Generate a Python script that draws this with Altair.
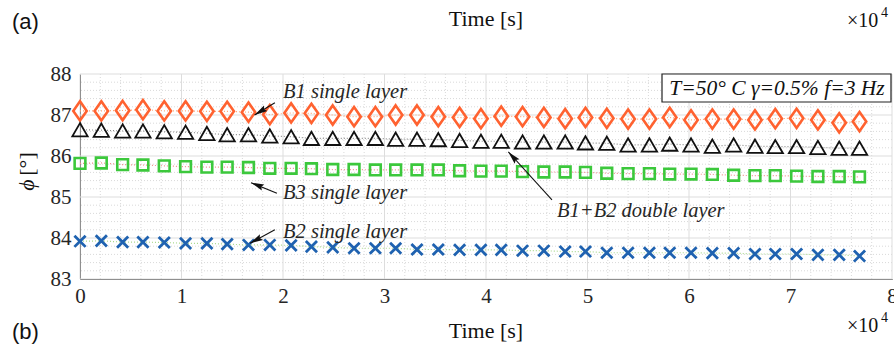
import math
import altair as alt
import pandas as pd

# ---- data (x in units of 10^4 s) ----
time_e4 = [0.00, 0.21, 0.42, 0.62, 0.83, 1.04, 1.25, 1.45, 1.66, 1.87, 2.08,
           2.28, 2.49, 2.70, 2.91, 3.11, 3.32, 3.53, 3.74, 3.95, 4.15, 4.36,
           4.57, 4.78, 4.98, 5.19, 5.40, 5.61, 5.81, 6.02, 6.23, 6.44, 6.65,
           6.85, 7.06, 7.27, 7.48, 7.68]

b1_single = [87.10, 87.10, 87.11, 87.13, 87.10, 87.10, 87.09, 87.09, 87.07, 87.01, 87.05,
             87.04, 87.00, 86.96, 86.96, 87.00, 87.00, 86.96, 86.94, 86.91, 86.97, 86.96,
             86.94, 86.91, 86.94, 86.92, 86.90, 86.90, 86.94, 86.88, 86.90, 86.90, 86.88,
             86.91, 86.92, 86.88, 86.81, 86.84]

b1b2_double = [86.64, 86.63, 86.61, 86.61, 86.59, 86.58, 86.55, 86.52, 86.52, 86.49, 86.47,
               86.43, 86.43, 86.43, 86.43, 86.41, 86.41, 86.40, 86.38, 86.36, 86.36, 86.34,
               86.34, 86.34, 86.32, 86.31, 86.27, 86.27, 86.29, 86.27, 86.24, 86.27, 86.24,
               86.23, 86.23, 86.21, 86.19, 86.19]

b3_single = [85.82, 85.83, 85.79, 85.78, 85.76, 85.74, 85.73, 85.73, 85.72, 85.70, 85.70,
             85.69, 85.67, 85.67, 85.66, 85.66, 85.66, 85.66, 85.64, 85.63, 85.63, 85.62,
             85.61, 85.61, 85.60, 85.58, 85.57, 85.57, 85.56, 85.56, 85.55, 85.53, 85.52,
             85.52, 85.51, 85.50, 85.50, 85.49]

b2_single = [83.92, 83.93, 83.90, 83.90, 83.89, 83.87, 83.87, 83.85, 83.83, 83.83, 83.82,
             83.79, 83.77, 83.75, 83.75, 83.75, 83.72, 83.72, 83.71, 83.71, 83.71, 83.69,
             83.69, 83.67, 83.67, 83.64, 83.64, 83.64, 83.64, 83.64, 83.63, 83.63, 83.61,
             83.61, 83.61, 83.59, 83.59, 83.56]

x_ticks = [0, 1, 2, 3, 4, 5, 6, 7, 8]
y_ticks = [83, 84, 85, 86, 87, 88]
x_minor = [0.2, 0.4, 0.6, 0.8, 1.2, 1.4, 1.6, 1.8, 2.2, 2.4, 2.6, 2.8,
           3.2, 3.4, 3.6, 3.8, 4.2, 4.4, 4.6, 4.8, 5.2, 5.4, 5.6, 5.8,
           6.2, 6.4, 6.6, 6.8, 7.2, 7.4, 7.6, 7.8]
y_minor = [83.2, 83.4, 83.6, 83.8, 84.2, 84.4, 84.6, 84.8, 85.2, 85.4, 85.6, 85.8,
           86.2, 86.4, 86.6, 86.8, 87.2, 87.4, 87.6, 87.8]

# annotations (data coordinates)
labels_text = ["B1 single layer", "B3 single layer", "B2 single layer", "B1+B2 double layer"]
labels_x = [2.00, 2.00, 2.00, 4.70]
labels_y = [87.56, 85.10, 84.15, 84.66]
arrow_tail_x = [1.92, 1.94, 1.92, 4.65]
arrow_tail_y = [87.30, 85.09, 84.20, 84.93]
arrow_head_x = [1.72, 1.685, 1.675, 4.22]
arrow_head_y = [87.00, 85.35, 83.87, 86.10]

# ---- layout ----
W, H = 812, 205
XMIN, XMAX, YMIN, YMAX = 0, 8, 83, 88
PX_X = W / (XMAX - XMIN)
PX_Y = H / (YMAX - YMIN)
SERIF = "Liberation Serif"
SANS = "Liberation Sans"
INK = "#262626"

xscale = alt.Scale(domain=[XMIN, XMAX], nice=False, zero=False)
yscale = alt.Scale(domain=[YMIN, YMAX], nice=False, zero=False)

x_axis = alt.Axis(
    values=x_ticks, title=None, ticks=False, grid=False, format="d",
    labelFont=SERIF, labelFontSize=21, labelColor=INK, labelPadding=6,
    labelFlush=False, labelOverlap=False,
    domainColor="#404040", domainWidth=1,
)
y_axis = alt.Axis(
    values=y_ticks, title=None, ticks=False, grid=False, format="d",
    labelFont=SERIF, labelFontSize=21, labelColor=INK, labelPadding=9,
    labelFlush=False, labelOverlap=False,
    domainColor="#404040", domainWidth=1,
)


def X(field):
    return alt.X(field, type="quantitative", scale=xscale, axis=x_axis)


def Y(field):
    return alt.Y(field, type="quantitative", scale=yscale, axis=y_axis)


layers = []

# grid lines
layers.append(
    alt.Chart(pd.DataFrame({"v": x_minor})).mark_rule(
        color="#D9D9D9", strokeDash=[1, 2], strokeWidth=1
    ).encode(x=X("v"))
)
layers.append(
    alt.Chart(pd.DataFrame({"v": y_minor})).mark_rule(
        color="#D9D9D9", strokeDash=[1, 2], strokeWidth=1
    ).encode(y=Y("v"))
)
layers.append(
    alt.Chart(pd.DataFrame({"v": x_ticks})).mark_rule(color="#DDDDDD", strokeWidth=1)
    .encode(x=X("v"))
)
layers.append(
    alt.Chart(pd.DataFrame({"v": y_ticks})).mark_rule(color="#DDDDDD", strokeWidth=1)
    .encode(y=Y("v"))
)


def series_df(vals):
    return pd.DataFrame({"t": time_e4, "phi": vals})


# faint dotted connecting lines
for vals, col in [(b1_single, "#FFA577"), (b1b2_double, "#8C8C8C"),
                  (b3_single, "#F08C8C"), (b2_single, "#A8D88A")]:
    layers.append(
        alt.Chart(series_df(vals)).mark_line(strokeDash=[1, 2], strokeWidth=1.2, color=col)
        .encode(x=X("t"), y=Y("phi"))
    )

DIAMOND = "M0,-1L0.70,0L0,1L-0.70,0Z"
XSHAPE = "M-1,-1L1,1M-1,1L1,-1"
for vals, kw in [
    (b1_single, dict(shape=DIAMOND, size=370, strokeWidth=2.6, color="#FF6230")),
    (b1b2_double, dict(shape="triangle-up", size=235, strokeWidth=1.8, color="#111111")),
    (b3_single, dict(shape="square", size=115, strokeWidth=2.6, color="#3CC83C")),
    (b2_single, dict(shape=XSHAPE, size=125, strokeWidth=2.8, color="#1F62B0")),
]:
    layers.append(
        alt.Chart(series_df(vals)).mark_point(filled=False, opacity=1, **kw)
        .encode(x=X("t"), y=Y("phi"))
    )

# arrows
ARROW_LEN = 13
head_cx, head_cy, head_ang = [], [], []
for tx, ty, hx, hy in zip(arrow_tail_x, arrow_tail_y, arrow_head_x, arrow_head_y):
    dx = (hx - tx) * PX_X
    dy = -(hy - ty) * PX_Y
    L = math.hypot(dx, dy)
    ux, uy = dx / L, dy / L
    cxp = -ux * ARROW_LEN / 2
    cyp = -uy * ARROW_LEN / 2
    head_cx.append(hx + cxp / PX_X)
    head_cy.append(hy - cyp / PX_Y)
    head_ang.append(math.degrees(math.atan2(dx, -dy)) % 360)

arrows = pd.DataFrame({
    "tx": arrow_tail_x, "ty": arrow_tail_y, "hx": arrow_head_x, "hy": arrow_head_y,
    "cx": head_cx, "cy": head_cy, "ang": head_ang,
})
layers.append(
    alt.Chart(arrows).mark_rule(color="#111111", strokeWidth=1.1).encode(
        x=X("tx"), y=Y("ty"), x2="hx:Q", y2="hy:Q",
    )
)
layers.append(
    alt.Chart(arrows).mark_point(
        shape="M0,-1L0.5,1L0,0.7L-0.5,1Z", size=ARROW_LEN ** 2, filled=True,
        color="#111111", opacity=1, strokeWidth=0,
    ).encode(x=X("cx"), y=Y("cy"), angle=alt.Angle("ang:Q", scale=None))
)

ann = pd.DataFrame({"x": labels_x, "y": labels_y, "txt": labels_text})
layers.append(
    alt.Chart(ann).mark_text(
        align="left", baseline="middle", font=SERIF, fontSize=20.5,
        fontStyle="italic", color=INK,
    ).encode(x=X("x"), y=Y("y"), text="txt:N")
)

# info box
one = pd.DataFrame({"k": [0]})
layers.append(
    alt.Chart(one).mark_rect(fill="white", stroke="#222222", strokeWidth=1.2).encode(
        x=alt.value(582), x2=alt.value(811), y=alt.value(0), y2=alt.value(28)
    )
)
layers.append(
    alt.Chart(one).mark_text(
        align="center", baseline="middle", font=SERIF, fontSize=21.5,
        fontStyle="italic", color="#111111",
    ).encode(x=alt.value(697), y=alt.value(15), text=alt.value("T=50° C γ=0.5% f=3 Hz"))
)


def txt(s, x, y, size, font=SERIF, align="center", angle=0, style="normal"):
    kw = dict(align=align, baseline="middle", font=font, fontSize=size, color="#111111",
              fontStyle=style)
    if angle:
        kw["angle"] = angle
    return alt.Chart(one).mark_text(**kw).encode(
        x=alt.value(x), y=alt.value(y), text=alt.value(s)
    )


layers += [
    txt("(a)", -68, -52, 22, font=SANS, align="left"),
    txt("Time [s]", 406, -55, 22),
    txt("×10", 767, -53, 20, align="left"),
    txt("4", 801, -61, 14, align="left"),
    txt("(b)", -68, 258, 22, font=SANS, align="left"),
    txt("Time [s]", 406, 257, 22),
    txt("×10", 767, 252, 20, align="left"),
    txt("4", 801, 244, 14, align="left"),
    txt("ϕ", -53, 111, 22, angle=270, style="italic"),
    txt("[°]", -53, 90, 22, angle=270),
]

chart = alt.layer(*layers).properties(
    width=W, height=H,
    autosize=alt.AutoSizeParams(type="none"),
    padding={"left": 80, "top": 74, "right": 2, "bottom": 72},
    background="white",
).configure_view(stroke=None)

chart.save("out.html", embed_options={"renderer": "svg", "actions": False})
